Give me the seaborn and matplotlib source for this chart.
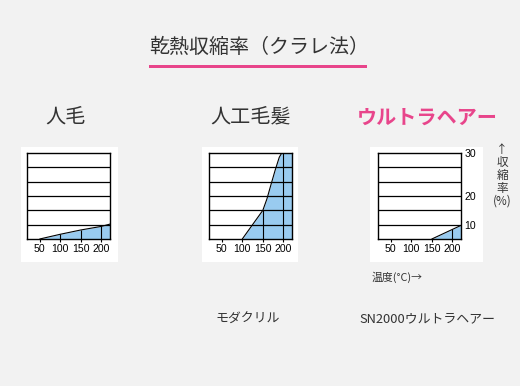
import numpy as np
import matplotlib
matplotlib.use("Agg")
import matplotlib.pyplot as plt
from matplotlib.patches import Rectangle
import seaborn as sns

sns.set_theme(style="white")
plt.rcParams['font.family'] = ['Noto Sans CJK JP', 'DejaVu Sans']

# ---------------- data ----------------
title = "乾熱収縮率（クラレ法）"
panel_titles = ["人毛", "人工毛髪", "ウルトラヘアー"]
captions = ["", "モダクリル", "SN2000ウルトラヘアー"]
x_ticks = [50, 100, 150, 200]
y_tick_values = [30, 20, 10]
x_label = "温度(°C)→"
y_label = "↑\n収\n縮\n率\n(%)"

hair_temp = [50, 100, 150, 200, 221]
hair_shrink = [0, 3.3, 6.3, 8.8, 10.2]

modacrylic_temp = [100, 150, 160, 170, 180, 190, 196, 221]
modacrylic_shrink = [0, 15, 19, 22.7, 26, 29, 30, 30]

ultra_temp = [150, 221]
ultra_shrink = [0, 9.5]

# chart's nonlinear vertical scale (percent -> grid band)
pct_knots = [0, 10, 20, 30]
band_knots = [0, 1, 3, 6]

# ---------------- style ----------------
W, H = 520, 386
BG = "#f2f2f2"
PINK = "#e8458b"
BLUE = "#99cbf0"
DARK = "#333333"
TICK_FONT = ['Liberation Sans', 'DejaVu Sans']

fig = plt.figure(figsize=(W / 100, H / 100), dpi=100)
fig.patch.set_facecolor(BG)


def fx(px):
    return px / W


def fy(py):
    return 1 - py / H


def add_box(x0, y0, x1, y1):
    fig.add_artist(Rectangle((fx(x0), fy(y1)), fx(x1) - fx(x0), fy(y0) - fy(y1),
                             transform=fig.transFigure, facecolor="white",
                             edgecolor="none", zorder=0))


# white panel boxes
add_box(21, 147, 118, 262)
add_box(202, 147, 298, 262)
add_box(370, 147, 483, 262)

fwd = lambda v: np.interp(v, pct_knots, band_knots)
inv = lambda b: np.interp(b, band_knots, pct_knots)

series = [(hair_temp, hair_shrink), (modacrylic_temp, modacrylic_shrink),
          (ultra_temp, ultra_shrink)]
lefts = [27, 209, 378]
ax_top, ax_bot, ax_w = 153, 239, 83

for i, ((xs, ys), left) in enumerate(zip(series, lefts)):
    ax = fig.add_axes([fx(left), fy(ax_bot), ax_w / W, (ax_bot - ax_top) / H])
    ax.set_facecolor("white")
    ax.set_yscale("function", functions=(fwd, inv))
    ax.set_xlim(19, 221)
    ax.set_ylim(0, 30)
    ax.fill_between(xs, 0, ys, color=BLUE, lw=0, zorder=1)
    sns.lineplot(x=xs, y=ys, ax=ax, color="black", lw=0.8, zorder=3)
    # vertical lines inside the filled area
    for t in x_ticks:
        top = np.interp(t, xs, ys, left=0, right=0)
        if top > 0:
            ax.vlines(t, 0, top, color="black", lw=0.8, zorder=2)
    # horizontal grid bands
    for b in range(1, 6):
        ax.axhline(inv(b), color="black", lw=0.9, zorder=2)
    for s in ax.spines.values():
        s.set_color("black")
        s.set_linewidth(1.0)
        s.set_zorder(4)
    ax.set_xticks(x_ticks)
    ax.set_xticklabels([str(t) for t in x_ticks], fontfamily=TICK_FONT,
                       fontsize=7.6, color="black")
    ax.tick_params(axis="x", direction="out", length=2.5, width=0.8,
                   pad=1, colors="black", bottom=True)
    if i == 2:
        ax.yaxis.tick_right()
        ax.set_yticks(y_tick_values)
        ax.set_yticklabels([str(v) for v in y_tick_values], fontfamily=TICK_FONT,
                           fontsize=7.6, color="black")
        ax.tick_params(axis="y", length=0, pad=2.5, right=True, left=False)
    else:
        ax.set_yticks([])
    ax.minorticks_off()
    ax.set_xlabel("")
    ax.set_ylabel("")

# ---------------- texts ----------------
fig.text(fx(259), fy(47), title, ha="center", va="center", fontsize=14.4, color=DARK)
fig.add_artist(Rectangle((fx(149), fy(68)), fx(367) - fx(149), fy(65.5) - fy(68),
                         transform=fig.transFigure, facecolor=PINK, edgecolor="none"))

fig.text(fx(45), fy(117), panel_titles[0], ha="left", va="center", fontsize=14.5, color=DARK)
fig.text(fx(210), fy(117), panel_titles[1], ha="left", va="center", fontsize=14.5, color=DARK)
fig.text(fx(357), fy(117), panel_titles[2], ha="left", va="center", fontsize=14.5,
         color=PINK, fontweight="bold")

fig.text(fx(215), fy(319), captions[1], ha="left", va="center", fontsize=9.3, color=DARK)
fig.text(fx(359), fy(319), captions[2], ha="left", va="center", fontsize=9.3, color=DARK)

fig.text(fx(372), fy(277), x_label, ha="left", va="center", fontsize=7.8, color=DARK)
fig.text(fx(502), fy(175), y_label, ha="center", va="center", fontsize=8.4,
         color=DARK, linespacing=1.0)

fig.savefig("out.png", dpi=100, facecolor=BG)
